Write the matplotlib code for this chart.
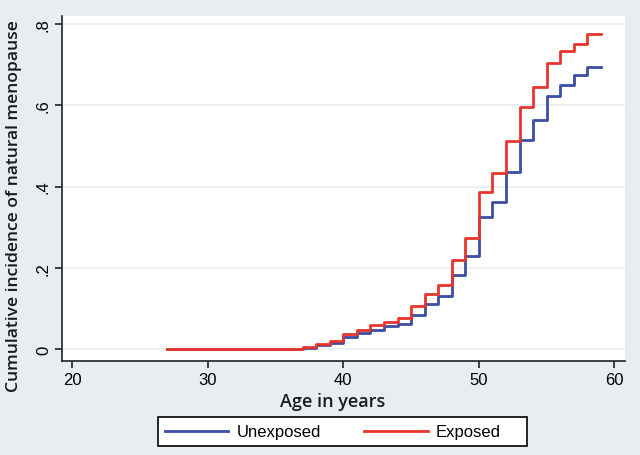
"""
Cumulative incidence of natural menopause by exposure (step curves).
"""

import matplotlib.pyplot as plt
from matplotlib.patches import Rectangle

# step start ages and cumulative incidence after each step
ages = [27, 37, 38, 39, 40, 41, 42, 43, 44, 45, 46, 47, 48, 49, 50,
        51, 52, 53, 54, 55, 56, 57, 58, 59]
unexposed = [0.0, 0.003, 0.009, 0.016, 0.029, 0.039, 0.048, 0.057, 0.062, 0.084,
             0.111, 0.130, 0.182, 0.228, 0.324, 0.363, 0.435, 0.515, 0.564, 0.622,
             0.650, 0.674, 0.695, 0.695]
exposed = [0.0, 0.005, 0.012, 0.019, 0.038, 0.048, 0.060, 0.066, 0.077, 0.107,
           0.135, 0.158, 0.220, 0.273, 0.386, 0.433, 0.513, 0.595, 0.644, 0.704,
           0.733, 0.752, 0.775, 0.775]

y_ticks = [0, 0.2, 0.4, 0.6, 0.8]
y_tick_labels = ['0', '.2', '.4', '.6', '.8']
x_ticks = [20, 30, 40, 50, 60]

BG = '#e7edf1'
BLUE = '#3b4ea3'
RED = '#e8352b'

fig = plt.figure(figsize=(6.4, 4.56), dpi=100, facecolor=BG)
ax = fig.add_axes([0.097, 0.206, 0.880, 0.757])
ax.set_facecolor('white')

ax.step(ages, unexposed, where='post', color=BLUE, lw=2.0, label='Unexposed')
ax.step(ages, exposed, where='post', color=RED, lw=2.0, label='Exposed')

ax.set_xlim(19.26, 60.8)
ax.set_ylim(-0.0295, 0.82)

ax.set_yticks(y_ticks)
ax.set_yticklabels(y_tick_labels, rotation=90, va='center',
                   family='Liberation Sans', fontsize=12)
ax.set_xticks(x_ticks)
ax.set_xticklabels([str(t) for t in x_ticks], family='Liberation Sans', fontsize=12)

ax.grid(axis='y', color='#e9eef2', lw=1.2)
ax.set_axisbelow(True)

for side in ['top', 'right']:
    ax.spines[side].set_visible(False)
for side in ['left', 'bottom']:
    ax.spines[side].set_color('#222222')
    ax.spines[side].set_linewidth(1.2)
ax.tick_params(length=5, width=1.2, color='#222222', pad=3)

ax.set_xlabel('Age in years', family='Open Sans', fontweight='semibold',
              fontsize=13, color='#1a1a1a')
ax.xaxis.set_label_coords(0.48, -0.09)
ax.set_ylabel('Cumulative incidence of natural menopause', family='Open Sans',
              fontweight='semibold', fontsize=12.6, color='#1a1a1a')
ax.yaxis.set_label_coords(-0.071, 0.452)

# legend: frameless entries plus a drawn box with Stata-like padding
leg = fig.legend(loc='center left', bbox_to_anchor=(165 / 640, 1 - 433 / 456),
                 ncol=2, frameon=False, handlelength=3.8, handletextpad=0.5,
                 columnspacing=2.6, borderpad=0, borderaxespad=0,
                 prop={'family': 'Liberation Sans', 'size': 12})
fig.patches.append(Rectangle((158 / 640, 1 - 447 / 456), 369 / 640, 29 / 456,
                             transform=fig.transFigure, facecolor='white',
                             edgecolor='black', lw=1.2, zorder=0))

plt.savefig('out.png', dpi=100, facecolor=BG)
